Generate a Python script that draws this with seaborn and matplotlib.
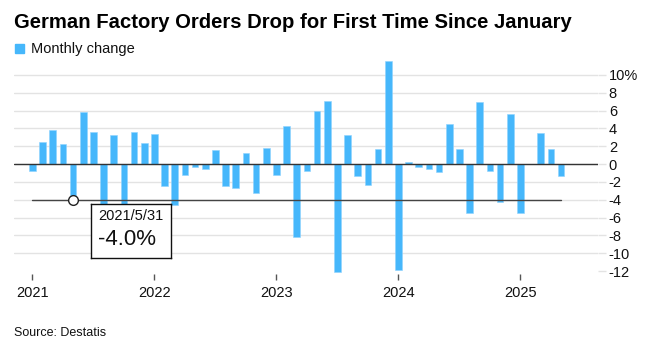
import matplotlib
matplotlib.use("Agg")
import matplotlib.pyplot as plt
import seaborn as sns
import pandas as pd
import numpy as np

# ---- data ----
months = pd.date_range("2021-01-01", "2025-05-01", freq="MS").strftime("%Y-%m").tolist()
monthly_change = [
    -0.8, 2.5, 3.8, 2.2, -4.0, 5.8, 3.6, -7.0, 3.2, -5.5, 3.6, 2.35,   # 2021
    3.4, -2.5, -4.6, -1.2, -0.3, -0.6, 1.6, -2.5, -2.7, 1.2, -3.2, 1.8,  # 2022
    -1.2, 4.3, -8.2, -0.75, 5.9, 7.1, -12.1, 3.2, -1.3, -2.3, 1.7, 11.6, # 2023
    -11.9, 0.2, -0.35, -0.6, -0.9, 4.5, 1.7, -5.5, 7.0, -0.75, -4.3, 5.6, # 2024
    -5.45, 0.05, 3.45, 1.65, -1.35,                                      # 2025
]
year_labels = ["2021", "2022", "2023", "2024", "2025"]
y_ticks = [10, 8, 6, 4, 2, 0, -2, -4, -6, -8, -10, -12]
y_tick_labels = ["10%", "8", "6", "4", "2", "0", "-2", "-4", "-6", "-8", "-10", "-12"]
highlight_date = "2021/5/31"
highlight_value = -4.0
highlight_month = "2021-05"

df = pd.DataFrame({"month": months, "change": monthly_change})

BLUE = "#46b7fb"
sns.set_theme(style="white")
plt.rcParams["font.family"] = ["Liberation Sans", "DejaVu Sans"]

fig = plt.figure(figsize=(6.5, 3.46), dpi=100)
ax = fig.add_axes([0.0215, 0.209, 0.898, 0.621])

sns.barplot(data=df, x="month", y="change", order=months, color=BLUE,
            saturation=1, width=0.66, ax=ax, edgecolor="#8fd3ff", linewidth=0.4)

n = len(months)
ax.set_xlim(-1.82, n + 2.6)
ax.set_ylim(-12.3, 11.8)

# gridlines
ax.set_yticks(y_ticks)
ax.set_yticklabels(y_tick_labels)
ax.yaxis.tick_right()
ax.grid(axis="y", color="#e3e3e3", linewidth=1.0)
ax.set_axisbelow(True)
for gl, t in zip(ax.get_ygridlines(), y_ticks):
    if t == -12:
        gl.set_visible(False)
ax.tick_params(axis="y", which="both", right=True, length=6, width=1,
               color="#e3e3e3", pad=2, labelsize=10.5, labelcolor="#111111")
for lab in ax.get_yticklabels():
    lab.set_horizontalalignment("left")

# x ticks at January of each year
year_pos = [months.index(f"{y}-01") for y in year_labels]
ax.set_xticks(year_pos)
ax.set_xticklabels(year_labels)
ax.tick_params(axis="x", bottom=True, length=4, width=1, color="#555555",
               pad=4.7, labelsize=10.5, labelcolor="#111111")
ax.set_xlabel("")
ax.set_ylabel("")
for s in ax.spines.values():
    s.set_visible(False)

# zero line
ax.axhline(0, color="#333333", linewidth=1.0, zorder=3)

# highlight line and marker
hx = months.index(highlight_month)
ax.plot([0, n - 1], [highlight_value, highlight_value], color="#444444",
        linewidth=1.0, zorder=4)
ax.plot([hx], [highlight_value], marker="o", markersize=7, markerfacecolor="white",
        markeredgecolor="#222222", markeredgewidth=1.0, zorder=5)

# annotation box
box = fig.add_axes([91.5 / 650, 1 - 258 / 346, 79.5 / 650, 54 / 346])
box.set_xticks([]); box.set_yticks([])
box.set_facecolor("white")
for s in box.spines.values():
    s.set_color("#111111"); s.set_linewidth(1.0)
box.text(0.09, 0.78, highlight_date, transform=box.transAxes, fontsize=10.5,
         va="center", ha="left", color="#111111")
box.text(0.08, 0.35, f"{highlight_value:.1f}%", transform=box.transAxes, fontsize=16,
         va="center", ha="left", color="#111111")

# title, legend, source
fig.text(14 / 650, 1 - 22.5 / 346, "German Factory Orders Drop for First Time Since January",
         fontsize=14.6, fontweight="bold", va="center", ha="left", color="#000000")
fig.patches.append(plt.Rectangle((15 / 650, 1 - 53 / 346), 9 / 650, 9 / 346,
                                 transform=fig.transFigure, color=BLUE, figure=fig))
fig.text(31 / 650, 1 - 49 / 346, "Monthly change", fontsize=10.5, va="center",
         ha="left", color="#111111")
fig.text(14 / 650, 1 - 333 / 346, "Source: Destatis", fontsize=9, va="center",
         ha="left", color="#111111")

fig.savefig("out.png", dpi=100)
